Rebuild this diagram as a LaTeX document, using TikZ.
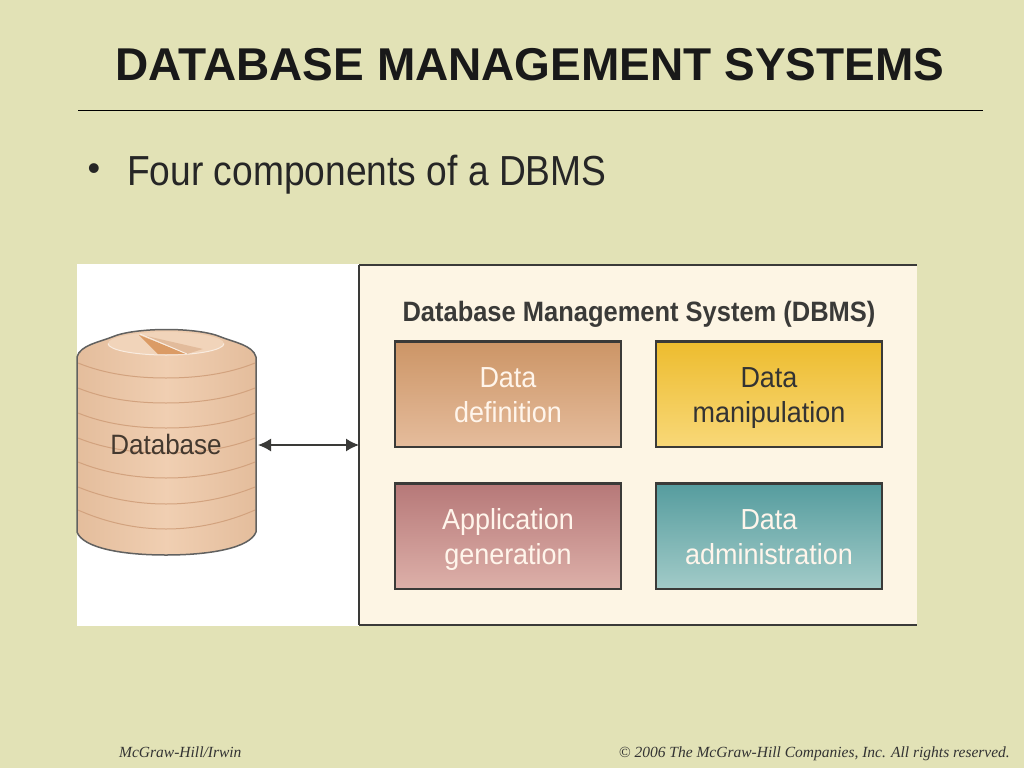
\documentclass[tikz,border=0pt]{standalone}
\usepackage{fontspec}
\setmainfont{Liberation Sans}
\newfontfamily\narrowfont[FakeStretch=0.93]{Liberation Sans}
\newfontfamily\headfont[FakeStretch=0.91]{Liberation Sans}
\newfontfamily\bulletfont[FakeStretch=0.885]{Liberation Sans}
\newfontfamily\footfont{Liberation Serif}
\usetikzlibrary{arrows.meta}
\definecolor{slidebg}{HTML}{E2E2B6}
\definecolor{framebg}{HTML}{FDF5E4}
\definecolor{edgegray}{HTML}{3A3A38}
\definecolor{dbskin}{HTML}{F0CFB2}
\definecolor{dbdark}{HTML}{E4BD9C}
\definecolor{dbline}{HTML}{D2A27E}
\definecolor{ddeftop}{HTML}{CC9566}
\definecolor{ddefbot}{HTML}{E5BC9C}
\definecolor{dmantop}{HTML}{EDBC2E}
\definecolor{dmanbot}{HTML}{F8D878}
\definecolor{agentop}{HTML}{B67878}
\definecolor{agenbot}{HTML}{DDB0A9}
\definecolor{dadmtop}{HTML}{559C9E}
\definecolor{dadmbot}{HTML}{A2CBC8}
\newcommand{\twolines}[2]{\rule{0pt}{33pt}#1\\#2\rule[-10.65pt]{0pt}{10.65pt}}
\tikzset{
  compbox/.style = {draw=edgegray, line width=1.2, minimum width=226, minimum height=106,
                inner sep=0pt, outer sep=0pt, align=center, text=white!92!orange,
                font=\narrowfont\fontsize{29}{35.5}\selectfont},
  topedge/.style = {draw=edgegray, line width=3},
  band/.style = {draw=dbline, line width=1},
  footer/.style = {inner sep=0pt, text=black!80!white,
                font=\footfont\itshape\fontsize{15.5}{15.5}\selectfont}
}

\begin{document}
\begin{tikzpicture}[x=1pt,y=-1pt]
	\useasboundingbox[fill=slidebg] (0,0) rectangle (1024,768);
	
	% Title
	\node[anchor=center, inner sep=0pt, font=\bfseries\fontsize{46}{46}\selectfont, text=black!90!white] (title) at (530,65) {DATABASE MANAGEMENT SYSTEMS};
	\coordinate (ruleL) at (78,110);
	\coordinate (ruleR) at (983,110);
	\draw[black, line width=1] (ruleL) -- (ruleR);
	
	% Bullet
	\node[inner sep=0pt, font=\fontsize{36}{36}\selectfont, text=black!85!white] (dot) at (94,172) {•};
	\node[anchor=west, inner sep=0pt, font=\bulletfont\fontsize{42}{42}\selectfont, text=black!85!white] (bullet) at (127,175) {Four components of a DBMS};
	
	% White panel
	\fill[white] (77,264) rectangle (359,626);
	
	% Frame
	\node[fill=framebg, minimum width=558, minimum height=360, inner sep=0pt, outer sep=0pt] (sys) at (638,445) {};
	\draw[edgegray, line width=2] (sys.north east) -- (sys.north west);
	\draw[edgegray, line width=1.5] (sys.north west) -- (sys.south west);
	\draw[edgegray, line width=1.5] (sys.south west) -- (sys.south east);
	\node[inner sep=0pt, text=edgegray, font=\headfont\bfseries\fontsize{28}{28}\selectfont] (systitle) at (639,314) {Database Management System (DBMS)};
	
	% Components
	\node[compbox, top color=ddeftop, bottom color=ddefbot] (ddef) at (508,394) {\twolines{Data}{definition}};
	\node[compbox, text=black!80!white, top color=dmantop, bottom color=dmanbot] (dman) at (769,394) {\twolines{Data}{manipulation}};
	\node[compbox, top color=agentop, bottom color=agenbot] (agen) at (508,536) {\twolines{Application}{generation}};
	\node[compbox, top color=dadmtop, bottom color=dadmbot] (dadm) at (769,536) {\twolines{Data}{administration}};
	\draw[topedge] (ddef.north west) -- (ddef.north east);
	\draw[topedge] (dman.north west) -- (dman.north east);
	\draw[topedge] (agen.north west) -- (agen.north east);
	\draw[topedge] (dadm.north west) -- (dadm.north east);
	
	% Cylinder
	\path[left color=dbdark, right color=dbdark, middle color=dbskin] (77,532) -- (77,357)
		.. controls (80,345) and (100,342) .. (112,337) .. controls (135,327) and (198,327) .. (221,337)
		.. controls (233,342) and (253,345) .. (256,357) -- (256,532)
		.. controls (250,548) and (210,555) .. (166,555) .. controls (122,555) and (83,548) .. (77,532) -- cycle;
	\draw[band] (78,363) .. controls (105,374) and (135,378) .. (166,378) .. controls (197,378) and (228,374) .. (255,363);
	\draw[band] (78,388) .. controls (105,399) and (135,403) .. (166,403) .. controls (197,403) and (228,399) .. (255,388);
	\draw[band] (78,413) .. controls (105,424) and (135,428) .. (166,428) .. controls (197,428) and (228,424) .. (255,413);
	\draw[band] (78,438) .. controls (105,449) and (135,453) .. (166,453) .. controls (197,453) and (228,449) .. (255,438);
	\draw[band] (78,462) .. controls (105,473) and (135,478) .. (166,478) .. controls (197,478) and (228,473) .. (255,462);
	\draw[band] (78,487) .. controls (105,498) and (135,504) .. (166,504) .. controls (197,504) and (228,498) .. (255,487);
	\draw[band] (78,510) .. controls (105,522) and (135,529) .. (166,529) .. controls (197,529) and (228,522) .. (255,510);
	\draw[edgegray!80!white, line width=1.5] (77,532) -- (77,357)
		.. controls (80,345) and (100,342) .. (112,337) .. controls (135,327) and (198,327) .. (221,337)
		.. controls (233,342) and (253,345) .. (256,357) -- (256,532)
		.. controls (250,548) and (210,555) .. (166,555) .. controls (122,555) and (83,548) .. (77,532) -- cycle;
	
	% Disk top
	\fill[dbskin!90!white] (166,343.5) ellipse (58 and 11.5);
	\draw[white!60!dbskin, line width=1] (108,343.5) arc (180:360:58 and -11.5);
	\fill[dbline!45!dbskin] (142,335) -- (203,349) -- (187,354) -- cycle;
	\fill[dbline!80!orange] (139,335) -- (187,354) -- (158,354) -- cycle;
	\draw[white!60!dbskin, line width=1] (140,334) -- (187,354);
	
	\node[inner sep=0pt, text=black!70!dbdark, font=\narrowfont\fontsize{28}{28}\selectfont] (dbname) at (166,444) {Database};
	
	% Arrow
	\coordinate (dbside) at (258,445);
	\draw[{Latex[length=13,width=13]}-{Latex[length=13,width=13]}, color=edgegray, line width=1.5] (dbside) -- (sys.west);
	
	% Footer
	\node[footer, anchor=base west] (pub) at (119,757) {McGraw-Hill/Irwin};
	\node[footer, anchor=base east] (copy) at (1010,757) {© 2006  The McGraw-Hill  Companies, Inc. All rights  reserved.};
	
\end{tikzpicture}
\end{document}
